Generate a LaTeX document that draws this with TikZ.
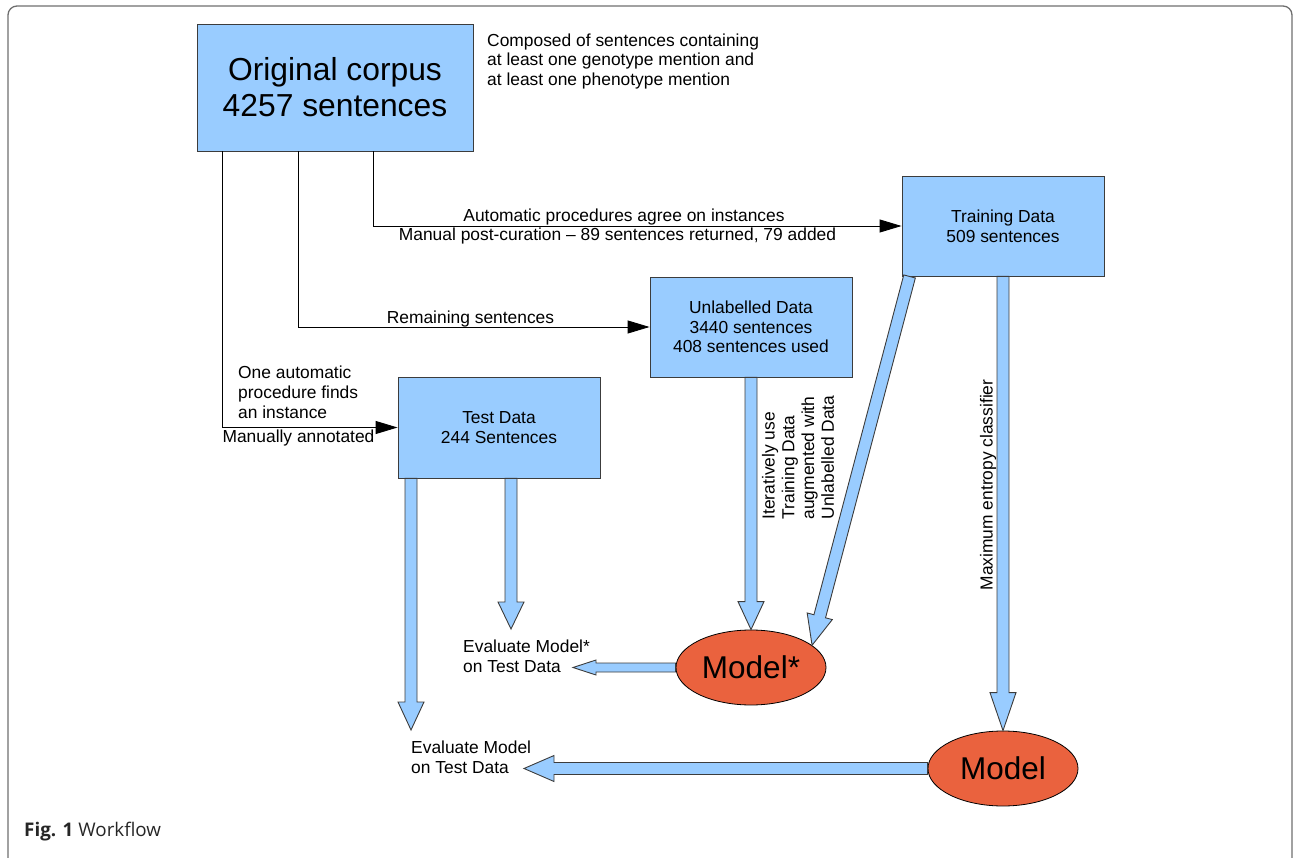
\documentclass[tikz,border=0pt]{standalone}
\usepackage{fontspec}
\setmainfont{Liberation Sans}
\newfontfamily\capfont{Open Sans}
\usetikzlibrary{arrows.meta,shapes.geometric,calc}
\definecolor{boxblue}{RGB}{153,204,255}
\definecolor{modelred}{RGB}{234,98,62}
\definecolor{framegray}{RGB}{110,110,110}
\definecolor{edgegray}{RGB}{60,60,60}
\newcommand{\blkarrow}[5]{%
  \coordinate (ba-a) at (#1);
  \coordinate (ba-b) at (#2);
  \coordinate (ba-h) at ($(ba-b)!#5!(ba-a)$);
  \draw[blkarr] ($(ba-a)!#3!90:(ba-b)$) -- ($(ba-h)!#3!-90:(ba-a)$) -- ($(ba-h)!#4!-90:(ba-a)$) -- (ba-b) -- ($(ba-h)!#4!90:(ba-a)$) -- ($(ba-h)!#3!90:(ba-a)$) -- ($(ba-a)!#3!-90:(ba-b)$) -- cycle;
}
\tikzset{
  databox/.style={draw=edgegray, line width=0.9pt, fill=boxblue, align=center, inner sep=0pt, font=\fontsize{17.4}{19.7}\selectfont},
  modelnode/.style={ellipse, draw=black, line width=0.8pt, fill=modelred, inner sep=0pt, minimum width=150pt, minimum height=75pt, font=\fontsize{31.5}{36}\selectfont},
  lbl/.style={inner sep=0pt, align=left, font=\fontsize{17.4}{19.8}\selectfont},
  conn/.style={draw=black, line width=0.9pt, -{Triangle[length=22pt,width=13pt]}},
  blkarr/.style={draw=edgegray, line width=0.9pt, fill=boxblue, line join=miter},
}
\begin{document}
\begin{tikzpicture}[x=1pt,y=-1pt]
\useasboundingbox (0,0) rectangle (1294,858);
\begin{scope}
\clip (0,0) rectangle (1294,858);
\draw[framegray, line width=1.3pt, rounded corners=9pt] (8,6) rectangle (1292,872);
\end{scope}

% boxes
\node[databox, minimum width=276pt, minimum height=127pt, font=\fontsize{31.8}{36}\selectfont] (orig) at (335,87.5) {Original corpus\\4257 sentences};
\node[databox, minimum width=202pt, minimum height=100pt] (train) at (1003,226) {Training Data\\509 sentences};
\node[databox, minimum width=202pt, minimum height=100pt] (unlab) at (751,327) {Unlabelled Data\\3440 sentences\\408 sentences used};
\node[databox, minimum width=202pt, minimum height=101pt] (test) at (499,427.5) {Test Data\\244 Sentences};
\node[modelnode] (mstar) at (751,667.5) {Model*};
\node[modelnode] (model) at (1003,768.5) {Model};

% text labels
\node[lbl, anchor=west] (comp) at (487,61.5) {Composed of sentences containing\\at least one genotype mention and\\at least one phenotype mention};
\node[lbl] (auto) at (624,217.5) {Automatic procedures agree on instances};
\node[lbl] (manual) at (617.5,236) {Manual post-curation -- 89 sentences returned, 79 added};
\node[lbl] (remain) at (470.5,319) {Remaining sentences};
\node[lbl, anchor=west] (oneauto) at (238,392) {One automatic\\procedure finds\\an instance};
\node[lbl] (mannot) at (298.5,438.5) {Manually annotated};
\node[lbl, rotate=90] (iter) at (798,457.5) {Iteratively use\\Training Data\\augmented with\\Unlabelled Data};
\node[lbl, rotate=90] (maxent) at (988,485) {Maximum entropy classifier};
\node[lbl, anchor=west] (evalA) at (463,656) {Evaluate Model*\\on Test Data};
\node[lbl, anchor=west] (evalB) at (411,757) {Evaluate Model\\on Test Data};
\node[inner sep=0pt, anchor=west, font=\capfont\fontsize{18.8}{22}\selectfont, text=black!85] (cap) at (24,832) {\textbf{Fig. 1} Workflow};

% thin connectors
\draw[conn] ([xshift=38pt]orig.south) |- (train.west);
\draw[conn] ([xshift=-37pt]orig.south) |- (unlab.west);
\draw[conn] ([xshift=-113pt]orig.south) |- (test.west);

% block arrows
\blkarrow{[xshift=-88pt]test.south}{[yshift=27pt]evalB.west}{6pt}{13pt}{28pt}
\blkarrow{[xshift=12pt]test.south}{[xshift=48pt,yshift=27pt]evalA.west}{6pt}{13pt}{27pt}
\blkarrow{unlab.south}{mstar.north}{6pt}{13pt}{28pt}
\blkarrow{[xshift=8pt]train.south west}{mstar.20}{6pt}{13pt}{30pt}
\blkarrow{train.south}{model.north}{6pt}{13pt}{38pt}
\blkarrow{mstar.west}{$(mstar.west -| evalA.west)+(110,0)$}{4.5pt}{7.5pt}{23pt}
\blkarrow{model.west}{$(model.west -| evalB.west)+(113,0)$}{6pt}{13pt}{30pt}
\end{tikzpicture}
\end{document}
